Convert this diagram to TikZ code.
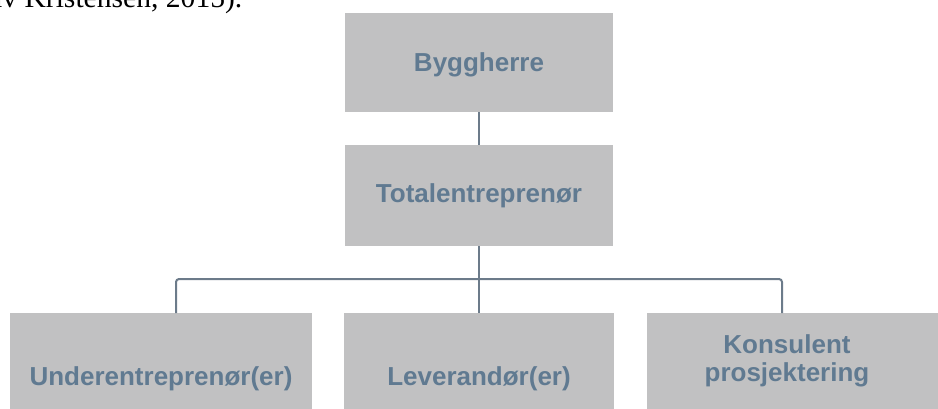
\documentclass[tikz,border=0pt]{standalone}
\usepackage{fontspec}
\setmainfont{Liberation Serif}
\newfontfamily\boxfont{Liberation Sans}
\definecolor{boxgray}{RGB}{193,193,194}
\definecolor{labelblue}{RGB}{96,122,145}
\definecolor{linkgray}{RGB}{108,123,138}
\begin{document}
\begin{tikzpicture}[x=1pt, y=-1pt,
  boxtext/.style={font=\boxfont\bfseries\fontsize{26}{28}\selectfont,
    text=labelblue, align=center},
  orgbox/.style={boxtext, fill=boxgray, draw=none, inner sep=0pt},
  link/.style={draw=linkgray, line width=2pt}]
\clip (0,0) rectangle (938,408);

% caption fragment running above the chart
\node[anchor=base west, inner sep=0pt, font=\fontsize{29.6}{34}\selectfont]
  (source) at (-11,7) {av Kristensen, 2015).};

% hierarchy boxes
\node[orgbox, minimum width=268pt, minimum height=99pt,
  text height=18.6pt, text depth=0pt] (bygg) at (479,62.5) {Byggherre};
\node[orgbox, minimum width=268pt, minimum height=101pt] (total) at (479,195.5) {Totalentreprenør};

\node[orgbox, anchor=north, minimum width=302pt, minimum height=130.5pt]
  (under) at (161,313) {Underentreprenør(er)};
\node[orgbox, anchor=north, minimum width=270pt, minimum height=130.5pt]
  (lever) at (479,313) {Leverandør(er)};
\node[orgbox, anchor=north, minimum width=291pt, minimum height=96pt,
  label={[boxtext, inner sep=0pt, xshift=-5.5pt]center:{Konsulent\\prosjektering}}]
  (kons) at (792.5,313) {};

% connectors
\coordinate (hub) at (479,279);
\coordinate (dropL) at (176,279);
\coordinate (dropR) at (782,279);

\draw[link] (bygg.south) -- (total.north);
\draw[link] (total.south) -- (hub);
\draw[link, rounded corners=3pt] (under.north -| dropL) -- (dropL) -- (dropR) -- (kons.north -| dropR);
\draw[link] (hub) -- (lever.north);
\end{tikzpicture}
\end{document}
